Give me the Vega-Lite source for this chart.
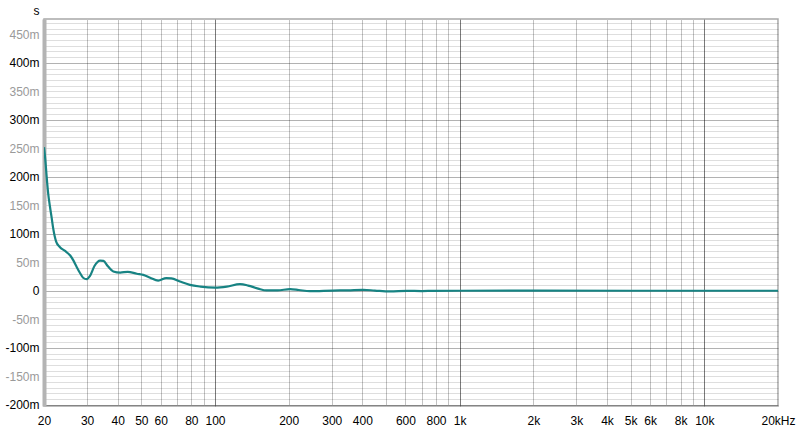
{
  "$schema": "https://vega.github.io/schema/vega-lite/v6.json",
  "width": 734,
  "height": 387,
  "autosize": {"type": "none"},
  "padding": {"left": 44, "top": 19, "right": 22, "bottom": 33},
  "background": "white",
  "config": {
    "view": {"stroke": "#a8a8a8", "strokeWidth": 1.5},
    "font": "Liberation Sans",
    "axis": {"labelFont": "Liberation Sans", "labelFontSize": 12, "titleFont": "Liberation Sans"}
  },
  "data": {
    "values": [
      {"freq": 20, "delay": 252},
      {"freq": 20.25, "delay": 230},
      {"freq": 20.5, "delay": 201},
      {"freq": 20.8, "delay": 171},
      {"freq": 21.15, "delay": 148},
      {"freq": 21.5, "delay": 128},
      {"freq": 21.8, "delay": 110},
      {"freq": 22.4, "delay": 87},
      {"freq": 23.2, "delay": 77},
      {"freq": 24.4, "delay": 70},
      {"freq": 25.6, "delay": 62},
      {"freq": 26.4, "delay": 53},
      {"freq": 27.2, "delay": 42},
      {"freq": 28.1, "delay": 31},
      {"freq": 28.9, "delay": 23},
      {"freq": 29.9, "delay": 20.5},
      {"freq": 30.8, "delay": 26},
      {"freq": 32.2, "delay": 44},
      {"freq": 33.9, "delay": 53},
      {"freq": 35, "delay": 52.5},
      {"freq": 36.5, "delay": 43},
      {"freq": 38.4, "delay": 34},
      {"freq": 41, "delay": 32},
      {"freq": 44, "delay": 33.5},
      {"freq": 47.9, "delay": 30},
      {"freq": 50.9, "delay": 28},
      {"freq": 54.3, "delay": 23},
      {"freq": 58.6, "delay": 18},
      {"freq": 63.2, "delay": 22.5},
      {"freq": 66.3, "delay": 22},
      {"freq": 71.9, "delay": 16.3},
      {"freq": 78.9, "delay": 10.5},
      {"freq": 87.2, "delay": 7.5},
      {"freq": 100, "delay": 5.8},
      {"freq": 111.7, "delay": 7.5},
      {"freq": 126.5, "delay": 11.7},
      {"freq": 136.6, "delay": 9.3},
      {"freq": 150, "delay": 4},
      {"freq": 162.6, "delay": 0.8},
      {"freq": 180, "delay": 0.8},
      {"freq": 202.7, "delay": 3},
      {"freq": 220, "delay": 1.5},
      {"freq": 244, "delay": -0.5},
      {"freq": 303.5, "delay": 0.6},
      {"freq": 350, "delay": 1},
      {"freq": 402.5, "delay": 1.8},
      {"freq": 450, "delay": 0.5},
      {"freq": 519, "delay": -1},
      {"freq": 608, "delay": 0},
      {"freq": 700, "delay": -0.3},
      {"freq": 778, "delay": 0},
      {"freq": 1000, "delay": 0.2},
      {"freq": 2000, "delay": 0.3},
      {"freq": 5000, "delay": 0.2},
      {"freq": 10000, "delay": 0.2},
      {"freq": 20000, "delay": 0.2}
    ]
  },
  "mark": {"type": "line", "color": "#178383", "strokeWidth": 2.2, "interpolate": "monotone", "clip": true},
  "encoding": {
    "x": {
      "field": "freq",
      "type": "quantitative",
      "scale": {"type": "log", "domain": [20, 20000], "nice": false, "zero": false},
      "axis": {
        "title": null,
        "orient": "bottom",
        "values": [20, 30, 40, 50, 60, 70, 80, 90, 100, 200, 300, 400, 500, 600, 700, 800, 900, 1000, 2000, 3000, 4000, 5000, 6000, 7000, 8000, 9000, 10000, 20000],
        "labelExpr": "indexof([70, 90, 500, 700, 900, 7000, 9000], datum.value) >= 0 ? '' : (datum.value == 20000 ? '20kHz' : (datum.value >= 1000 ? (datum.value / 1000) + 'k' : datum.value + ''))",
        "labelOverlap": false,
        "labelFlush": false,
        "labelColor": "black",
        "labelPadding": 9,
        "ticks": false,
        "domain": false,
        "grid": true,
        "gridColor": {"condition": {"test": "datum.value == 100 || datum.value == 1000 || datum.value == 10000", "value": "#7a7a7a"}, "value": "#c2c2c2"},
        "gridWidth": 1
      }
    },
    "y": {
      "field": "delay",
      "type": "quantitative",
      "scale": {"domain": [-202, 477], "nice": false, "zero": false},
      "axis": {
        "title": "s",
        "titleAngle": 0,
        "titleAlign": "center",
        "titleBaseline": "middle",
        "titleX": -8,
        "titleY": -9,
        "titleFontSize": 12,
        "titleFontWeight": "normal",
        "titleColor": "black",
        "orient": "left",
        "values": [-200, -190, -180, -170, -160, -150, -140, -130, -120, -110, -100, -90, -80, -70, -60, -50, -40, -30, -20, -10, 0, 10, 20, 30, 40, 50, 60, 70, 80, 90, 100, 110, 120, 130, 140, 150, 160, 170, 180, 190, 200, 210, 220, 230, 240, 250, 260, 270, 280, 290, 300, 310, 320, 330, 340, 350, 360, 370, 380, 390, 400, 410, 420, 430, 440, 450, 460, 470],
        "labelExpr": "datum.value % 50 === 0 ? (datum.value === 0 ? '0' : datum.value + 'm') : ''",
        "labelOverlap": false,
        "labelFlush": false,
        "labelColor": {"condition": {"test": "datum.value % 100 === 0", "value": "black"}, "value": "#9a9a9a"},
        "labelPadding": 5,
        "ticks": false,
        "domain": true,
        "domainColor": "#b4b4b4",
        "domainWidth": 4,
        "grid": true,
        "gridColor": "black",
        "gridOpacity": {"condition": {"test": "datum.value % 100 === 0", "value": 0.3}, "value": 0.13},
        "gridWidth": 1
      }
    }
  }
}
